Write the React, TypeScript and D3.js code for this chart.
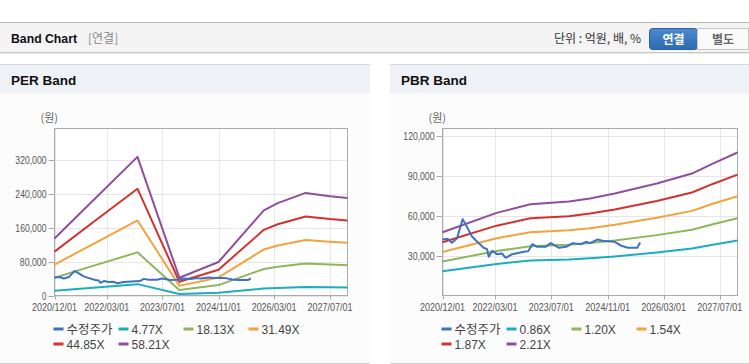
import React from 'react';
import * as d3 from 'd3';

const parse = d3.timeParse('%Y-%m-%d');

// Shared adjusted price (수정주가)
const priceDates = ['2020-12-01','2020-12-20','2021-01-20','2021-02-20','2021-04-05','2021-05-25','2021-07-01','2021-08-12','2021-09-28','2021-11-22','2021-12-22','2022-01-06','2022-02-05','2022-03-18','2022-05-01','2022-06-01','2022-07-28','2022-11-07','2022-12-15','2023-01-19','2023-03-01','2023-05-12','2023-06-28','2023-09-07','2023-11-07','2024-01-04','2024-03-16','2024-04-28','2024-06-01','2024-08-07','2024-10-01','2025-01-01','2025-02-28','2025-04-25','2025-07-15','2025-08-10'];
const priceValues = [42700,43000,43000,40200,43500,58000,52200,45200,41000,36500,35500,29700,34200,31700,32200,29000,31700,33500,34000,39200,37200,37200,40000,36500,37200,40000,39200,41000,40000,42700,41500,41000,38000,36500,36500,40500];

// PER band
const perDates = ['2020-12-01','2021-12-01','2022-11-25','2023-11-25','2024-11-01','2025-12-01','2026-04-01','2026-12-01','2027-07-01','2027-12-01'];
const per477 = [11000,19000,26800,3400,6500,16500,17900,19800,19200,18800];
const per1813 = [41900,72300,101800,13100,24600,62600,67900,75400,72900,71600];
const per3149 = [72800,125500,177000,22700,42700,108700,118000,130900,126600,124400];
const per4485 = [103600,178800,252000,32400,60900,154900,168000,186400,180300,177200];
const per5821 = [134500,232000,327000,42000,79000,201000,218000,242000,234000,230000];
const perLabels = ['수정주가','4.77X','18.13X','31.49X','44.85X','58.21X'];
const perYTicks = [0,80000,160000,240000,320000];

// PBR band
const pbrDates = ['2020-12-01','2022-03-15','2023-01-01','2023-12-01','2024-06-01','2025-01-01','2026-01-01','2026-11-01','2027-05-01','2027-12-01'];
const pbr086 = [18900,24400,26900,27700,28600,30000,33000,35900,38800,42000];
const pbr120 = [26200,34100,37600,38700,40000,41900,46000,50000,54100,58600];
const pbr154 = [33400,43700,48200,49600,51200,53800,59000,64200,69500,75200];
const pbr187 = [40700,53100,58600,60200,62200,65300,71600,78000,84400,91400];
const pbr221 = [48200,62700,69200,71200,73500,77200,84700,92200,99700,108000];
const pbrLabels = ['수정주가','0.86X','1.20X','1.54X','1.87X','2.21X'];
const pbrYTicks = [30000,60000,90000,120000];

const xTickDates = ['2020-12-01','2022-03-01','2023-07-01','2024-11-01','2026-03-01','2027-07-01'];
const xDomain = ['2020-12-01','2027-12-01'];

const colors = ['#3b73c2','#1cadc1','#8fb65a','#f4a23c','#d2322e','#8f4f9f'];

const FONT = '"Liberation Sans", Arial, sans-serif';
const KFONT = '"Noto Sans CJK KR", "Liberation Sans", sans-serif';

type Series = { dates: string[]; values: number[] };

function Panel(props: {
  ox: number; width: number; title: string; plotX0: number; plotX1: number;
  yDomain: [number, number]; yTicks: number[]; series: Series[]; labels: string[];
}) {
  const { ox, width, title, plotX0, plotX1, yDomain, yTicks, series, labels } = props;
  const top = 128.5, bottom = 295.5;
  const x = d3.scaleTime().domain(xDomain.map(d => parse(d) as Date)).range([plotX0, plotX1]);
  const y = d3.scaleLinear().domain(yDomain).range([bottom, top]);
  const line = d3.line<[Date, number]>().x(d => x(d[0])).y(d => y(d[1]));
  const fmt = d3.format(',');
  const tfmt = d3.timeFormat('%Y/%m/%d');
  return (
    <g>
      <rect x={ox} y={64} width={width} height={300} fill="#fcfcfc" />
      <line x1={ox} x2={ox + width} y1={64.5} y2={64.5} stroke="#d9d9d9" />
      <rect x={ox} y={65} width={width} height={28} fill="#eef2f7" />
      <text x={ox + 11} y={85} fontFamily={FONT} fontWeight="bold" fontSize={13.5} fill="#111">{title}</text>
      <line x1={ox} x2={ox + width} y1={363.5} y2={363.5} stroke="#d0d0d0" />
      <text x={plotX0 - 14} y={122} fontFamily={KFONT} fontSize={11} fill="#666">(원)</text>
      <rect x={plotX0} y={top} width={plotX1 - plotX0} height={bottom - top} fill="#fff" />
      {yTicks.map(t => (
        <g key={'y' + t}>
          <line x1={plotX0} x2={plotX1} y1={Math.round(y(t)) + 0.5} y2={Math.round(y(t)) + 0.5} stroke="#e6e6e6" />
          <line x1={plotX0 - 6} x2={plotX0} y1={Math.round(y(t)) + 0.5} y2={Math.round(y(t)) + 0.5} stroke="#aaa" />
          <text x={plotX0 - 8} y={y(t) + 4} textAnchor="end" fontFamily={FONT} fontSize={11} fill="#555"
            textLength={fmt(t).length * 4.45} lengthAdjust="spacingAndGlyphs">{fmt(t)}</text>
        </g>
      ))}
      {xTickDates.map(s => {
        const d = parse(s) as Date;
        const xp = Math.round(x(d)) + 0.5;
        return (
          <g key={'x' + s}>
            <line x1={xp} x2={xp} y1={top} y2={bottom} stroke="#e6e6e6" />
            <line x1={xp} x2={xp} y1={bottom} y2={bottom + 4} stroke="#aaa" />
            <text x={x(d)} y={311} textAnchor="middle" fontFamily={FONT} fontSize={10} fill="#555"
              textLength={45} lengthAdjust="spacingAndGlyphs">{tfmt(d)}</text>
          </g>
        );
      })}
      <rect x={plotX0} y={top} width={plotX1 - plotX0} height={bottom - top} fill="none" stroke="#aaa" />
      {series.slice(1).concat(series.slice(0, 1)).map((s, i) => {
        const idx = (i + 1) % series.length;
        const pts = s.dates.map((d, j) => [parse(d) as Date, s.values[j]] as [Date, number]);
        return <path key={'s' + i} d={line(pts) || ''} fill="none" stroke={colors[idx]} strokeWidth={2} strokeLinejoin="round" />;
      })}
      {labels.map((l, i) => {
        const col = i % 4, row = Math.floor(i / 4);
        const lx = plotX0 - 1 + col * 65;
        const ly = 329 + row * 15;
        return (
          <g key={'l' + i}>
            <line x1={lx} x2={lx + 10} y1={ly} y2={ly} stroke={colors[i]} strokeWidth={3} />
            <text x={lx + 13} y={ly + 4.5} fontFamily={i === 0 ? KFONT : FONT} fontSize={i === 0 ? 12.5 : 12} fill="#444">{l}</text>
          </g>
        );
      })}
    </g>
  );
}

export default function App() {
  const perSeries: Series[] = [
    { dates: priceDates, values: priceValues },
    { dates: perDates, values: per477 },
    { dates: perDates, values: per1813 },
    { dates: perDates, values: per3149 },
    { dates: perDates, values: per4485 },
    { dates: perDates, values: per5821 },
  ];
  const pbrSeries: Series[] = [
    { dates: priceDates, values: priceValues },
    { dates: pbrDates, values: pbr086 },
    { dates: pbrDates, values: pbr120 },
    { dates: pbrDates, values: pbr154 },
    { dates: pbrDates, values: pbr187 },
    { dates: pbrDates, values: pbr221 },
  ];
  return (
    <div style={{ position: 'fixed', left: 0, top: 0 }}>
      <svg width={749} height={364} style={{ display: 'block', background: '#fff' }}>
        <defs>
          <linearGradient id="btn" x1="0" y1="0" x2="0" y2="1">
            <stop offset="0" stopColor="#4b8ad0" />
            <stop offset="1" stopColor="#2d6aae" />
          </linearGradient>
        </defs>
        {/* header bar */}
        <rect x={0} y={22} width={749} height={31} fill="#f4f4f4" />
        <line x1={0} x2={749} y1={22.5} y2={22.5} stroke="#b8b8b8" />
        <line x1={0} x2={749} y1={52.5} y2={52.5} stroke="#c8c8c8" />
        <line x1={0} x2={749} y1={53.5} y2={53.5} stroke="#e8e8e8" />
        <text x={11} y={43} fontFamily={FONT} fontWeight="bold" fontSize={13.5} fill="#111"
          textLength={66} lengthAdjust="spacingAndGlyphs">Band Chart</text>
        <text x={88} y={43} fontFamily={KFONT} fontSize={12} fill="#888">[연결]</text>
        <text x={641} y={43} textAnchor="end" fontFamily={KFONT} fontSize={12} fill="#333">단위 : 억원, 배, %</text>
        <rect x={649.5} y={28.5} width={48} height={21} rx={3} fill="url(#btn)" stroke="#2c64a3" />
        <text x={673.5} y={43.5} textAnchor="middle" fontFamily={KFONT} fontWeight="bold" fontSize={12} fill="#fff">연결</text>
        <rect x={697.5} y={28.5} width={51} height={21} fill="#fafafa" stroke="#c8c8c8" />
        <text x={723} y={43.5} textAnchor="middle" fontFamily={KFONT} fontWeight="bold" fontSize={12} fill="#666">별도</text>
        <Panel ox={0} width={370} title="PER Band" plotX0={54.5} plotX1={347.5}
          yDomain={[0, 394000]} yTicks={perYTicks} series={perSeries} labels={perLabels} />
        <Panel ox={390} width={359} title="PBR Band" plotX0={442.5} plotX1={737.5}
          yDomain={[700, 126000]} yTicks={pbrYTicks} series={pbrSeries} labels={pbrLabels} />
      </svg>
    </div>
  );
}
